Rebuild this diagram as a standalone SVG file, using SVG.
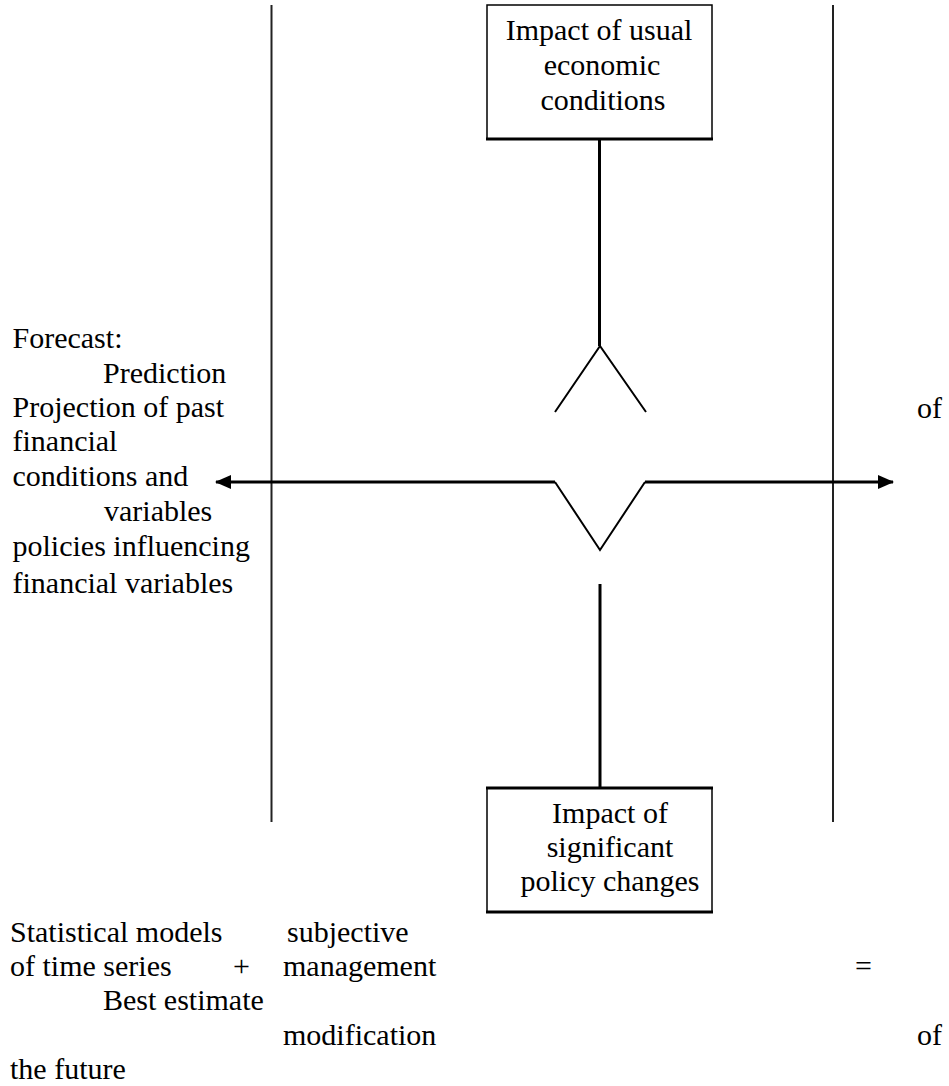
<svg xmlns="http://www.w3.org/2000/svg" width="949" height="1086" viewBox="0 0 949 1086">
<style>
  text { font-family: 'Liberation Serif', 'Times New Roman', Times, 'DejaVu Serif', serif; font-size: 30px; fill: #000; }
  .mid { text-anchor: middle; }
  .rule { stroke: #222; stroke-width: 2; fill: none; }
  .thick { stroke: #000; stroke-width: 3; fill: none; }
  .thin { stroke: #000; stroke-width: 2; fill: none; }
  .box { stroke: #000; stroke-width: 1.5; fill: #fff; }
</style>
<defs>
  <marker id="ah" viewBox="0 0 16 14" refX="15" refY="7" markerWidth="16" markerHeight="14" markerUnits="userSpaceOnUse" orient="auto-start-reverse">
    <path d="M0,0 L16,7 L0,14 Z" fill="#000"/>
  </marker>
</defs>
<rect width="949" height="1086" fill="#fff"/>

<g id="boundaries">
  <line class="rule" x1="271.5" y1="5" x2="271.5" y2="822"/>
  <line class="rule" x1="833" y1="5" x2="833" y2="822"/>
</g>

<g id="connectors">
  <line class="thick" x1="599.5" y1="139" x2="599.5" y2="346"/>
  <polyline class="thin" points="555,412 600,346 646,412"/>
  <line class="thick" x1="600" y1="584" x2="600" y2="788"/>
  <line class="thick" x1="555" y1="482" x2="216" y2="482" marker-end="url(#ah)"/>
  <polyline class="thin" points="555,482 600,550 645,482"/>
  <line class="thick" x1="645" y1="482" x2="893" y2="482" marker-end="url(#ah)"/>
</g>

<g font-family="Liberation Serif, serif">
<g id="node-usual">
  <rect class="box" x="487" y="5" width="225" height="134"/>
  <line class="thick" x1="486" y1="139" x2="713" y2="139"/>
  <text class="mid" x="599" y="39.5">Impact of usual</text>
  <text class="mid" x="602" y="74.5">economic</text>
  <text class="mid" x="603" y="109.5">conditions</text>
</g>

<g id="node-policy">
  <rect class="box" x="487" y="788" width="225" height="124"/>
  <line class="thick" x1="486" y1="788" x2="713" y2="788"/>
  <line class="thick" x1="486" y1="912" x2="713" y2="912"/>
  <text class="mid" x="610" y="822.5">Impact of</text>
  <text class="mid" x="610" y="856.5">significant</text>
  <text class="mid" x="610" y="891">policy changes</text>
</g>

<g id="forecast-text">
  <text x="12.5" y="348">Forecast:</text>
  <text x="103" y="383">Prediction</text>
  <text x="12.5" y="416.5">Projection of past</text>
  <text x="917" y="418">of</text>
  <text x="12.5" y="451">financial</text>
  <text x="12.5" y="486">conditions and</text>
  <text x="104" y="521">variables</text>
  <text x="12.5" y="556">policies influencing</text>
  <text x="12.5" y="593">financial variables</text>
</g>

<g id="equation-text">
  <text x="10" y="942">Statistical models</text>
  <text x="287" y="942">subjective</text>
  <text x="10" y="976">of time series</text>
  <text x="233" y="976">+</text>
  <text x="283" y="976">management</text>
  <text x="855" y="976">=</text>
  <text x="103" y="1010">Best estimate</text>
  <text x="283" y="1045">modification</text>
  <text x="917" y="1045">of</text>
  <text x="10" y="1079">the future</text>
</g>
</g>
</svg>
